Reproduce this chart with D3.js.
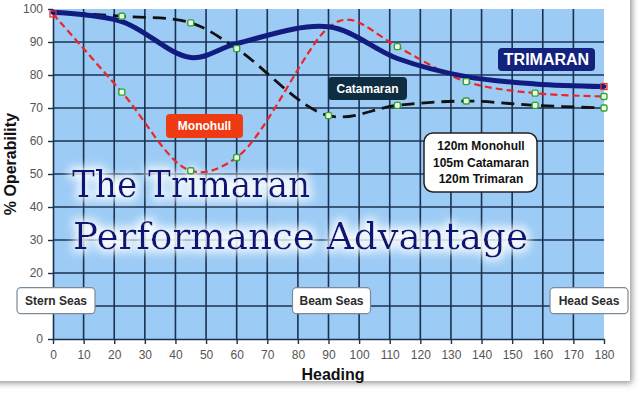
<!DOCTYPE html>
<html>
<head>
<meta charset="utf-8">
<script src="https://cdn.jsdelivr.net/npm/d3@7"></script>
<style>
  html, body { margin: 0; padding: 0; background: #fff; }
  svg { display: block; }
</style>
</head>
<body>
<div id="chart"></div>
<script>
// values
const monohullHeadings = [0, 22.5, 45, 60, 90, 97, 112.5, 135, 157.5, 180];
const monohull = [98.5, 74.8, 51, 55, 94.4, 96.7, 88.6, 78, 74.5, 73.5];
const catamaranHeadings = [0, 22.5, 45, 60, 90, 112.5, 135, 157.5, 180];
const catamaran = [99, 97.8, 95.8, 88, 67.7, 70.8, 72.1, 70.8, 70];
const trimaranHeadings = [0, 22.5, 45, 60, 90, 112.5, 135, 157.5, 180];
const trimaran = [99, 96.2, 85.3, 89.5, 94.6, 85, 79.5, 77.3, 76.5];
const monohullMarkers = [22.5, 45, 60, 112.5, 135, 157.5, 180];
const catamaranMarkers = [22.5, 45, 60, 90, 112.5, 135, 157.5, 180];
const xTicks = d3.range(0, 181, 10);
const yTicks = d3.range(0, 101, 10);
const seaLabels = [
  { text: 'Stern Seas', at: 0 },
  { text: 'Beam Seas', at: 90 },
  { text: 'Head Seas', at: 180 }
];
const legendLines = ['120m Monohull', '105m Catamaran', '120m Trimaran'];

class TrimaranChart {
  constructor(config) {
    this.config = config;
    this.width = config.width;
    this.height = config.height;
    this.left = config.left;
    this.right = config.right;
    this.top = config.top;
    this.bottom = config.bottom;
    this.svg = null;
    this.xScale = null;
    this.yScale = null;
    this.createSvg();
  }

  createSvg() {
    this.svg = d3.select(this.config.div)
      .append('svg')
      .attr('width', this.width)
      .attr('height', this.height);

    const defs = this.svg.append('defs');
    const shadow = defs.append('filter').attr('id', 'shadow')
      .attr('x', '-5%').attr('y', '-5%').attr('width', '110%').attr('height', '110%');
    shadow.append('feGaussianBlur').attr('in', 'SourceAlpha').attr('stdDeviation', 3).attr('result', 'b');
    shadow.append('feOffset').attr('in', 'b').attr('dx', 2).attr('dy', 2).attr('result', 'o');
    shadow.append('feFlood').attr('flood-color', '#777').attr('flood-opacity', 0.8);
    shadow.append('feComposite').attr('in2', 'o').attr('operator', 'in').attr('result', 's');
    const m1 = shadow.append('feMerge');
    m1.append('feMergeNode').attr('in', 's');
    m1.append('feMergeNode').attr('in', 'SourceGraphic');

    const glow = defs.append('filter').attr('id', 'glow')
      .attr('x', '-10%').attr('y', '-50%').attr('width', '120%').attr('height', '200%');
    glow.append('feMorphology').attr('in', 'SourceAlpha').attr('operator', 'dilate').attr('radius', 3).attr('result', 'd');
    glow.append('feGaussianBlur').attr('in', 'd').attr('stdDeviation', 5).attr('result', 'b');
    glow.append('feFlood').attr('flood-color', '#ffffff').attr('flood-opacity', 0.9);
    glow.append('feComposite').attr('in2', 'b').attr('operator', 'in').attr('result', 'g');
    const m2 = glow.append('feMerge');
    m2.append('feMergeNode').attr('in', 'g');
    m2.append('feMergeNode').attr('in', 'SourceGraphic');

    // white card with a shadow on the right and bottom
    this.svg.append('rect')
      .attr('x', -20).attr('y', -20)
      .attr('width', 650).attr('height', 401)
      .attr('fill', '#fff')
      .attr('filter', 'url(#shadow)');
  }

  createScales() {
    this.xScale = d3.scaleLinear().domain([0, 180]).range([this.left, this.width - this.right]);
    this.yScale = d3.scaleLinear().domain([0, 100]).range([this.height - this.bottom, this.top]);
  }

  createGrid() {
    const x0 = this.xScale(0), x1 = this.xScale(180);
    const y0 = this.yScale(0), y1 = this.yScale(100);
    this.svg.append('rect')
      .attr('x', x0).attr('y', y1)
      .attr('width', x1 - x0).attr('height', y0 - y1)
      .attr('fill', '#9ccbf5');

    const grid = this.svg.append('g').attr('stroke', '#1b3150').attr('stroke-width', 1.6);
    grid.selectAll('.gx')
      .data(xTicks.filter(d => d > 0 && d < 180))
      .join('line')
      .attr('x1', d => this.xScale(d)).attr('x2', d => this.xScale(d))
      .attr('y1', y1).attr('y2', y0);
    grid.selectAll('.gy')
      .data(yTicks.filter(d => d > 0 && d < 100))
      .join('line')
      .attr('x1', x0).attr('x2', x1)
      .attr('y1', d => this.yScale(d)).attr('y2', d => this.yScale(d));
  }

  createTitle() {
    const t = this.svg.append('g')
      .attr('filter', 'url(#glow)')
      .attr('font-family', 'DejaVu Serif, serif')
      .attr('fill', '#0b1277');
    t.append('text')
      .attr('x', 72).attr('y', 197)
      .attr('font-size', 37)
      .attr('textLength', 238).attr('lengthAdjust', 'spacingAndGlyphs')
      .text('The Trimaran');
    t.append('text')
      .attr('x', 73).attr('y', 249)
      .attr('font-size', 37)
      .attr('textLength', 455).attr('lengthAdjust', 'spacingAndGlyphs')
      .text('Performance Advantage');
  }

  createAxis() {
    const xAxis = d3.axisBottom(this.xScale).tickValues(xTicks).tickSize(5).tickSizeOuter(0).tickPadding(6);
    // the 10 label sits behind the "Stern Seas" box in the picture
    const yAxis = d3.axisLeft(this.yScale).tickValues(yTicks).tickSize(5).tickSizeOuter(0).tickPadding(5)
      .tickFormat(d => d === 10 ? '' : d);

    const gx = this.svg.append('g')
      .attr('transform', `translate(0,${this.height - this.bottom})`)
      .call(xAxis);
    const gy = this.svg.append('g')
      .attr('transform', `translate(${this.left},0)`)
      .call(yAxis);

    [gx, gy].forEach(g => {
      g.select('.domain').attr('stroke', '#1b3150').attr('stroke-width', 1.6);
      g.selectAll('.tick line').attr('stroke', '#1b3150').attr('stroke-width', 1.4);
      g.selectAll('.tick text')
        .attr('fill', '#555')
        .attr('font-family', 'Liberation Sans, Arial, sans-serif')
        .attr('font-size', 12);
    });

    this.svg.append('text')
      .attr('transform', `translate(16,${this.yScale(53)}) rotate(-90)`)
      .attr('text-anchor', 'middle')
      .attr('font-family', 'Liberation Sans, Arial, sans-serif')
      .attr('font-weight', 'bold')
      .attr('font-size', 16)
      .attr('fill', '#111')
      .text('% Operability');

    this.svg.append('text')
      .attr('x', 333).attr('y', 380)
      .attr('text-anchor', 'middle')
      .attr('font-family', 'Liberation Sans, Arial, sans-serif')
      .attr('font-weight', 'bold')
      .attr('font-size', 16)
      .attr('fill', '#111')
      .text('Heading');
  }

  createLines() {
    const line = d3.line()
      .x(d => this.xScale(d[0]))
      .y(d => this.yScale(d[1]))
      .curve(d3.curveCatmullRom);

    const pts = (hs, values) => hs.map((h, i) => [h, values[i]]);

    this.svg.append('path')
      .attr('d', line(pts(catamaranHeadings, catamaran)))
      .attr('fill', 'none')
      .attr('stroke', '#111')
      .attr('stroke-width', 2.8)
      .attr('stroke-dasharray', '13,7');

    this.svg.append('path')
      .attr('d', line(pts(monohullHeadings, monohull)))
      .attr('fill', 'none')
      .attr('stroke', '#ee2525')
      .attr('stroke-width', 2.2)
      .attr('stroke-dasharray', '7,4');

    this.svg.append('path')
      .attr('d', line(pts(trimaranHeadings, trimaran)))
      .attr('fill', 'none')
      .attr('stroke', '#101c80')
      .attr('stroke-width', 5)
      .attr('stroke-linecap', 'round');

    const markers = [
      ...catamaranMarkers.map(h => [h, catamaran[catamaranHeadings.indexOf(h)]]),
      ...monohullMarkers.map(h => [h, monohull[monohullHeadings.indexOf(h)]])
    ];
    this.svg.selectAll('.marker')
      .data(markers)
      .join('rect')
      .attr('class', 'marker')
      .attr('x', d => this.xScale(d[0]) - 3)
      .attr('y', d => this.yScale(d[1]) - 3)
      .attr('width', 6).attr('height', 6).attr('rx', 1.5)
      .attr('fill', '#f2fbe8')
      .attr('stroke', '#2fa52f')
      .attr('stroke-width', 1.4);

    const ends = [[0, monohull[0]], [180, trimaran[trimaran.length - 1]]];
    this.svg.selectAll('.end')
      .data(ends)
      .join('rect')
      .attr('class', 'end')
      .attr('x', d => this.xScale(d[0]) - 3)
      .attr('y', d => this.yScale(d[1]) - 3)
      .attr('width', 6).attr('height', 6)
      .attr('fill', 'none')
      .attr('stroke', '#e83030')
      .attr('stroke-width', 1.3);
  }

  tag(x, y, w, h, fill, text, size, rx) {
    this.svg.append('rect')
      .attr('x', x).attr('y', y).attr('width', w).attr('height', h)
      .attr('rx', rx).attr('fill', fill);
    this.svg.append('text')
      .attr('x', x + w / 2).attr('y', y + h / 2)
      .attr('dy', '0.36em')
      .attr('text-anchor', 'middle')
      .attr('font-family', 'Liberation Sans, Arial, sans-serif')
      .attr('font-weight', 'bold')
      .attr('font-size', size)
      .attr('fill', '#fff')
      .text(text);
  }

  createLabels() {
    this.tag(166, 114, 77, 24, '#ef3b14', 'Monohull', 12, 4);
    this.tag(328, 77, 79, 23, '#0e2d40', 'Catamaran', 12, 4);
    this.tag(498, 48, 97, 23, '#13237d', 'TRIMARAN', 16, 4);

    // legend box
    this.svg.append('rect')
      .attr('x', 424).attr('y', 133).attr('width', 113).attr('height', 59)
      .attr('rx', 9)
      .attr('fill', '#fff').attr('stroke', '#222').attr('stroke-width', 1.5);
    this.svg.selectAll('.legend')
      .data(legendLines)
      .join('text')
      .attr('class', 'legend')
      .attr('x', 481)
      .attr('y', (d, i) => 150 + i * 16.5)
      .attr('text-anchor', 'middle')
      .attr('font-family', 'Liberation Sans, Arial, sans-serif')
      .attr('font-weight', 'bold')
      .attr('font-size', 12)
      .attr('fill', '#111')
      .text(d => d);

    // sea state boxes along the bottom, kept inside the card
    const boxW = 78;
    const sea = this.svg.selectAll('.sea')
      .data(seaLabels)
      .join('g')
      .attr('class', 'sea')
      .attr('transform', d => {
        const cx = Math.max(17 + boxW / 2, Math.min(628 - boxW / 2, this.xScale(d.at) + 3));
        return `translate(${cx},${this.yScale(11.6)})`;
      });
    sea.append('rect')
      .attr('x', -boxW / 2).attr('y', -13).attr('width', boxW).attr('height', 26)
      .attr('rx', 4)
      .attr('fill', '#fff').attr('stroke', '#7d8a96').attr('stroke-width', 1.2);
    sea.append('text')
      .attr('dy', '0.36em')
      .attr('text-anchor', 'middle')
      .attr('font-family', 'Liberation Sans, Arial, sans-serif')
      .attr('font-weight', 'bold')
      .attr('font-size', 12)
      .attr('fill', '#2c2c2c')
      .text(d => d.text);
  }
}

function startTrimaranChart(object) {
  const chart = new TrimaranChart(object);
  chart.createScales();
  chart.createGrid();
  chart.createTitle();
  chart.createAxis();
  chart.createLines();
  chart.createLabels();
}

startTrimaranChart({
  div: '#chart',
  width: 640,
  height: 393,
  left: 53,
  right: 36,
  top: 9,
  bottom: 54
});
</script>
</body>
</html>
